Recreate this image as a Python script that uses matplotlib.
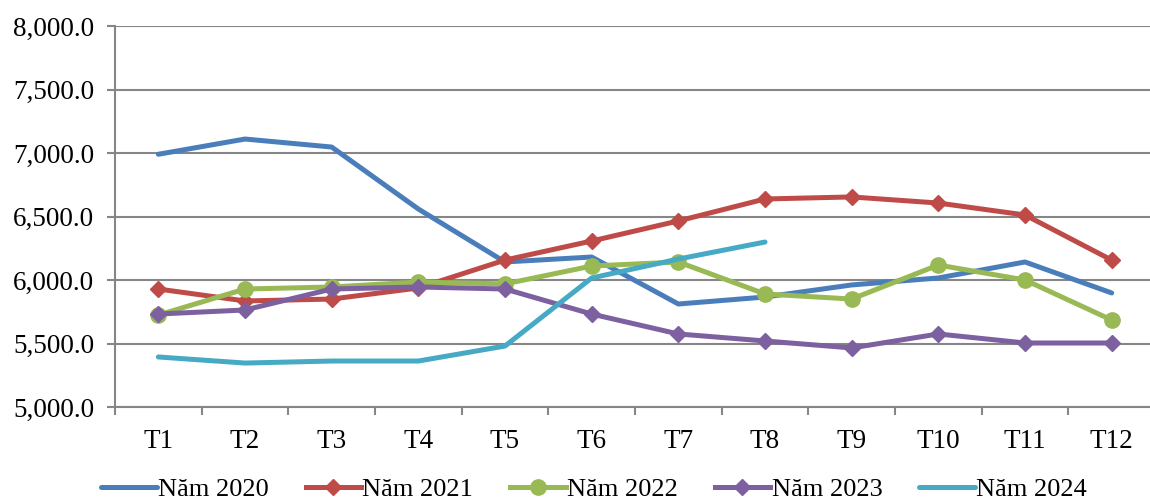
import matplotlib
matplotlib.use("Agg")
import matplotlib.pyplot as plt
import numpy as np
from matplotlib.ticker import FuncFormatter, FixedLocator

months = ["T1", "T2", "T3", "T4", "T5", "T6", "T7", "T8", "T9", "T10", "T11", "T12"]
y2020 = [6990, 7110, 7047, 6559, 6142, 6181, 5811, 5866, 5961, 6016, 6142, 5898]
y2021 = [5929, 5835, 5850, 5937, 6157, 6307, 6465, 6638, 6654, 6606, 6512, 6157]
y2022 = [5724, 5929, 5945, 5984, 5969, 6110, 6142, 5890, 5850, 6118, 6000, 5685]
y2023 = [5732, 5764, 5929, 5945, 5929, 5732, 5575, 5520, 5465, 5575, 5504, 5504]
y2024 = [5394, 5346, 5362, 5362, 5480, 6016, 6165, 6299]

plt.rcParams["font.family"] = ["Liberation Serif", "DejaVu Serif"]

fig = plt.figure(figsize=(11.5, 5.01), dpi=100)
ax = fig.add_axes([115 / 1150, 1 - 407 / 501, 1040 / 1150, 381 / 501])

x = np.arange(len(months))
lw = 3.6
ax.plot(x, y2020, color="#4A7EBB", lw=lw, label="Năm 2020", solid_capstyle="round")
ax.plot(x, y2021, color="#BE4B48", lw=lw, marker="D", ms=8, label="Năm 2021")
ax.plot(x, y2022, color="#98B954", lw=lw, marker="o", ms=11, label="Năm 2022")
ax.plot(x, y2023, color="#7D60A0", lw=lw, marker="D", ms=8, label="Năm 2023")
ax.plot(x[:len(y2024)], y2024, color="#46AAC5", lw=lw, label="Năm 2024", solid_capstyle="round")

ax.set_xlim(-0.5, len(months) - 0.5)
ax.set_ylim(5000, 8000)
ax.set_yticks(np.arange(5000, 8001, 500))
ax.yaxis.set_major_formatter(FuncFormatter(lambda v, p: f"{v:,.1f}"))
ax.grid(axis="y", color="#868686", lw=1.5)
ax.set_axisbelow(True)

ax.set_xticks(x)
ax.set_xticklabels(months)
ax.xaxis.set_minor_locator(FixedLocator(np.arange(-0.5, len(months), 1)))
ax.tick_params(axis="x", which="major", length=0, pad=16, labelsize=19.5)
ax.tick_params(axis="x", which="minor", length=6, width=1.5, color="#868686")
ax.tick_params(axis="y", length=6, width=1.5, color="#868686", labelsize=19.5, pad=9)

for s in ["top", "right"]:
    ax.spines[s].set_visible(False)
for s in ["left", "bottom"]:
    ax.spines[s].set_color("#868686")
    ax.spines[s].set_linewidth(1.5)

fig.legend(loc="center", bbox_to_anchor=(0.5165, 1 - 489 / 501), ncol=5, frameon=False,
           fontsize=19, handlelength=2.1, handletextpad=0.05, columnspacing=1.4,
           borderaxespad=0)

fig.savefig("out.png", dpi=100)
